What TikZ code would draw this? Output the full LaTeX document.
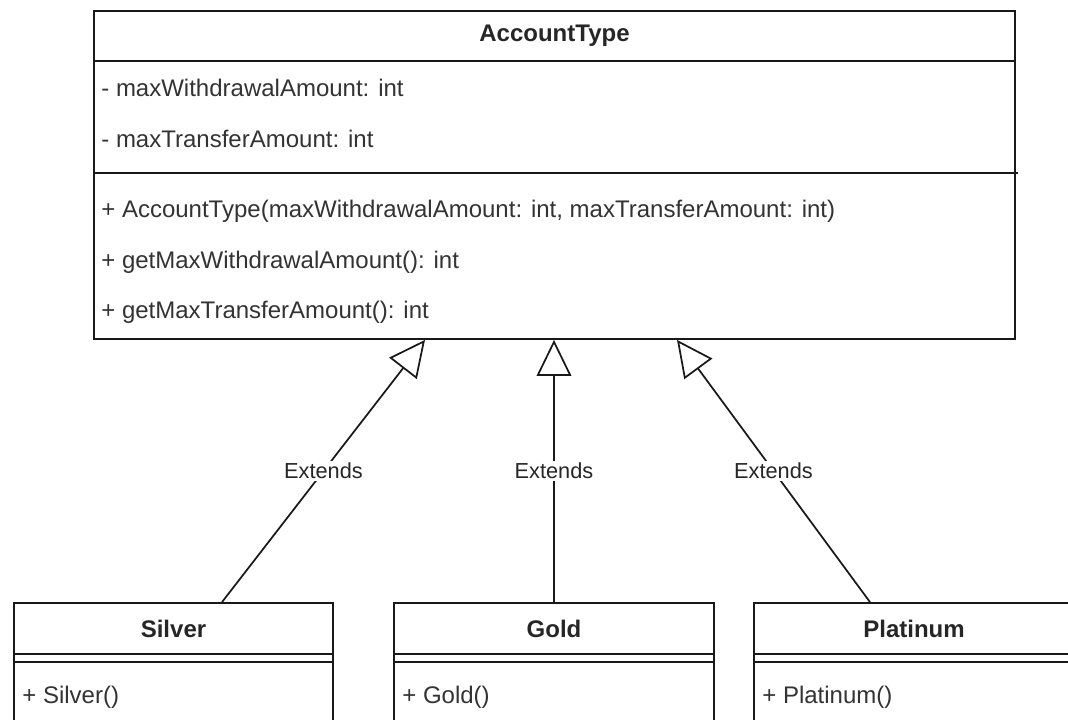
\documentclass[tikz,border=0pt]{standalone}
\usepackage{fontspec}
\setmainfont{Liberation Sans}
\usetikzlibrary{arrows.meta,calc}
\begin{document}
\begin{tikzpicture}[x=0.75pt,y=-0.75pt,
  box/.style={draw=black!90, line width=1.35pt, inner sep=0pt, fill=white},
  title/.style={font=\fontsize{18}{21}\selectfont\bfseries, text=black!85, inner sep=0pt},
  member/.style={font=\fontsize{18}{21}\selectfont, text=black!80, anchor=west, inner sep=0pt},
  rule/.style={draw=black!90, line width=1.35pt},
  extends/.style={draw=black!90, line width=1.3pt,
    -{Triangle[open, length=27pt, width=26pt, fill=white]}},
  lbl/.style={font=\fontsize{16.3}{19}\selectfont, text=black!85, fill=white, inner sep=1.5pt}]

\useasboundingbox (0,0) rectangle (1068,719);
\clip (0,0) rectangle (1068,719);

% superclass
\node[box, minimum width=690.75pt, minimum height=246pt] (acct) at (554.5,175) {};
\draw[rule] ($(acct.north west)+(0,51)$) -- ($(acct.north east)+(0,51)$);
\draw[rule] ($(acct.north west)+(0,163)$) -- ($(acct.north east)+(2,163)$);
\node[title] (acctname) at ($(acct.north)+(0,26)$) {AccountType};
\node[member] (a1) at ($(acct.north west)+(8,78)$) {- maxWithdrawalAmount: int};
\node[member] (a2) at ($(acct.north west)+(8,129)$) {- maxTransferAmount: int};
\node[member] (m1) at ($(acct.north west)+(8,201)$) {+ AccountType(maxWithdrawalAmount: int, maxTransferAmount: int)};
\node[member] (m2) at ($(acct.north west)+(8,252)$) {+ getMaxWithdrawalAmount(): int};
\node[member] (m3) at ($(acct.north west)+(8,302)$) {+ getMaxTransferAmount(): int};

% subclasses
\node[box, minimum width=239.25pt, minimum height=132.75pt] (silver) at (173.5,691.5) {};
\node[box, minimum width=240pt, minimum height=132.75pt] (gold) at (554,691.5) {};
\node[box, minimum width=240pt, minimum height=132.75pt] (plat) at (914,691.5) {};

\foreach \c/\t/\m in {silver/Silver/Silver(), gold/Gold/Gold(), plat/Platinum/Platinum()}{
  \draw[rule] ($(\c.north west)+(0,52)$) -- ($(\c.north east)+(0,52)$);
  \draw[rule] ($(\c.north west)+(0,60)$) -- ($(\c.north east)+(0,60)$);
  \node[title] (\c-name) at ($(\c.north)+(0,27)$) {\t};
  \node[member] (\c-op) at ($(\c.north west)+(9,95)$) {+ \m};
}

% generalisation connectors
\draw[extends] ($(silver.north)+(48.5,0)$) -- node[lbl]{Extends} ($(acct.south)+(-129.5,0)$);
\draw[extends] (gold.north) -- node[lbl]{Extends} (acct.south -| gold.north);
\draw[extends] ($(plat.north)+(-44,0)$) -- node[lbl]{Extends} ($(acct.south)+(122.5,0)$);
\end{tikzpicture}
\end{document}
